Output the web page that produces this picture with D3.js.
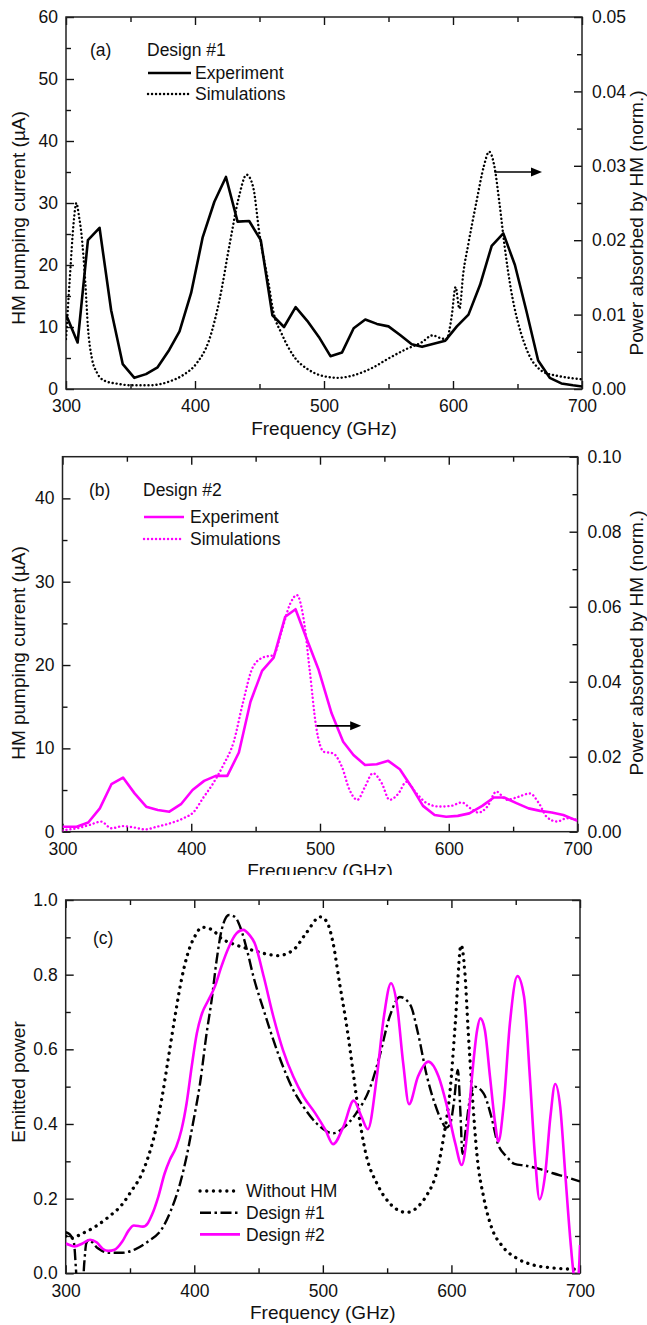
<!DOCTYPE html>
<html lang="en">
<head>
<meta charset="UTF-8">
<title>HM pumping current and emitted power</title>
<script src="https://cdnjs.cloudflare.com/ajax/libs/d3/7.8.5/d3.min.js"></script>
<style>
  body { margin: 0; background: #fff; }
  svg { display: block; font-family: "Liberation Sans", Arial, sans-serif; }
</style>
</head>
<body>
<div id="chart"></div>
<script>
// ---- data ----
var freqMajor = [300, 400, 500, 600, 700];
var freqMinor = [350, 450, 550, 650];

// (a) Design #1: pumping current (µA) and simulated absorbed power (norm.)
var aExperiment = [[300,12],[309,7.5],[317,24],[326,26],[335,12.7],[344,4],[353,1.8],[362,2.4],[371,3.5],[380,6.3],
  [388,9.3],[397,15.5],[406,24.5],[415,30.2],[424,34.2],[433,27],[442,27.1],[451,24],[460,11.9],[469,10],
  [478,13.2],[487,11],[496,8.4],[505,5.3],[514,5.9],[523,9.8],[532,11.2],[541,10.5],[550,10.1],[559,8.7],
  [568,7.2],[576,6.8],[585,7.3],[594,7.8],[603,10.1],[612,12],[621,16.8],[630,23.1],[639,25.1],[648,20],
  [657,12.5],[666,4.6],[675,1.8],[684,0.9],[693,0.6],[700,0.4]];
var aSimulation = [[300,0.0067],[303,0.0150],[306,0.0225],[308,0.0250],[310,0.0233],[312,0.0208],[315,0.0142],
  [317,0.0083],[320,0.0042],[324,0.0022],[330,0.0011],[340,0.0007],[350,0.0005],[365,0.0005],[380,0.0010],
  [391,0.0019],[401,0.0034],[411,0.0066],[419,0.0120],[427,0.0196],[434,0.0258],[440,0.0288],[445,0.0272],
  [450,0.0208],[457,0.0142],[461,0.0102],[467,0.0075],[477,0.0043],[488,0.0026],[498,0.0018],[511,0.0015],
  [524,0.0019],[537,0.0028],[550,0.0041],[563,0.0053],[576,0.0063],[584,0.0072],[591,0.0068],[595,0.0067],
  [599,0.0098],[602,0.0137],[605,0.0108],[608,0.0156],[612,0.0196],[618,0.0250],[624,0.0300],[628,0.0319],
  [632,0.0300],[636,0.0250],[640,0.0192],[645,0.0133],[650,0.0092],[655,0.0063],[660,0.0042],[665,0.0030],
  [670,0.0023],[680,0.0018],[690,0.0015],[700,0.0013]];
var aLeftMajor = [0, 10, 20, 30, 40, 50, 60];
var aLeftMinor = [5, 15, 25, 35, 45, 55];
var aRightMajor = [0, 0.01, 0.02, 0.03, 0.04, 0.05];
var aRightMinor = [0.005, 0.015, 0.025, 0.035, 0.045];

// (b) Design #2
var bExperiment = [[300,0.6],[311,0.6],[320,1.1],[329,2.8],[338,5.7],[347,6.5],[356,4.6],[365,3.0],[374,2.6],
  [383,2.4],[392,3.3],[401,5.0],[410,6.1],[419,6.7],[428,6.7],[437,9.5],[446,15.6],[455,19.3],[464,20.9],
  [473,25.8],[481,26.7],[490,23],[499,19.4],[509,14.2],[518,10.8],[526,9.2],[535,8.0],[544,8.1],[553,8.5],
  [562,7.5],[571,5.4],[580,3.1],[589,2.0],[598,1.8],[607,1.9],[616,2.2],[626,3.1],[635,4.1],[643,4.1],
  [653,3.4],[662,2.8],[671,2.5],[680,2.3],[689,2.0],[700,1.3]];
var bSimulation = [[300,0.0003],[303,0.0005],[311,0.0009],[321,0.0018],[330,0.0027],[338,0.0009],[347,0.0015],
  [356,0.0011],[364,0.0006],[373,0.0013],[383,0.0022],[394,0.0036],[402,0.0053],[409,0.0089],[417,0.0129],
  [425,0.0178],[433,0.0240],[440,0.0342],[448,0.0440],[456,0.0465],[464,0.0471],[470,0.0533],[477,0.0609],
  [482,0.0631],[487,0.0573],[492,0.0431],[497,0.0280],[503,0.0213],[510,0.0209],[517,0.0173],[523,0.0111],
  [529,0.0085],[535,0.0120],[541,0.0156],[548,0.0129],[554,0.0085],[561,0.0102],[567,0.0133],[575,0.0102],
  [583,0.0076],[593,0.0067],[602,0.0069],[610,0.0078],[617,0.0062],[623,0.0051],[630,0.0067],[637,0.0107],
  [645,0.0085],[654,0.0093],[663,0.0102],[670,0.0076],[676,0.0040],[684,0.0027],[692,0.0036],[700,0.0031]];
var bLeftMajor = [0, 10, 20, 30, 40];
var bLeftMinor = [5, 15, 25, 35];
var bRightMajor = [0, 0.02, 0.04, 0.06, 0.08, 0.10];
var bRightMinor = [0.01, 0.03, 0.05, 0.07, 0.09];

// (c) emitted power
var withoutHM = [[300,0.1],[305,0.095],[312,0.105],[323,0.125],[333,0.15],[344,0.185],[351,0.22],[359,0.265],
  [364,0.31],[370,0.384],[375,0.473],[380,0.58],[385,0.688],[390,0.786],[395,0.857],[401,0.906],[406,0.927],
  [414,0.92],[421,0.897],[429,0.884],[441,0.87],[454,0.857],[465,0.851],[477,0.866],[487,0.911],[498,0.955],
  [503,0.942],[508,0.884],[513,0.777],[519,0.652],[524,0.527],[529,0.402],[534,0.3125],[542,0.241],[552,0.1875],
  [565,0.163],[571,0.17],[577,0.19],[581,0.21],[589,0.277],[594,0.366],[599,0.491],[603,0.67],[607.5,0.879],
  [610.5,0.804],[613,0.652],[616,0.491],[620,0.3125],[625,0.205],[631,0.125],[640,0.071],[651,0.04],
  [664,0.022],[677,0.015],[690,0.0116],[700,0.011]];
var design1 = [[300,0.11],[303,0.105],[305,0.095],[306.5,0.08],[308,0.01],[309,-0.04],[313,-0.04],[314.5,0.03],
  [316,0.08],[318,0.089],[325,0.067],[333,0.055],[344,0.055],[354,0.064],[364,0.085],[375,0.12],[382,0.17],
  [389,0.241],[394,0.3125],[399,0.402],[404.5,0.509],[409.6,0.643],[413.5,0.732],[417.4,0.839],[421.3,0.92],
  [427,0.96],[431.5,0.955],[436,0.925],[441,0.866],[446,0.795],[454,0.705],[461.5,0.625],[469,0.554],
  [477,0.491],[485,0.446],[495,0.402],[508,0.375],[517,0.393],[526,0.429],[537,0.5],[544,0.58],[552,0.688],
  [560,0.74],[568,0.719],[574,0.643],[581,0.527],[587,0.455],[592,0.411],[596,0.39],[599,0.4],[602,0.46],
  [605,0.545],[607,0.43],[608.6,0.32],[611,0.38],[614,0.46],[618,0.5],[625,0.482],[631,0.42],[636,0.348],
  [643,0.3125],[649,0.293],[658,0.288],[669,0.279],[679,0.268],[690,0.257],[700,0.246]];
var design2 = [[300,0.08],[303,0.076],[307,0.072],[313,0.08],[319,0.09],[324,0.083],[329,0.065],[333,0.06],
  [338,0.063],[344,0.085],[349,0.115],[353,0.128],[360,0.125],[364,0.135],[367,0.156],[372,0.205],[377,0.268],
  [381,0.304],[386,0.339],[390,0.384],[394,0.455],[398,0.554],[402,0.643],[406,0.696],[411,0.732],[416,0.768],
  [421,0.821],[426.5,0.871],[433,0.911],[438,0.92],[443,0.906],[447,0.884],[454,0.795],[461.5,0.688],
  [469,0.598],[477,0.527],[485,0.473],[494,0.429],[502,0.384],[508,0.346],[516,0.393],[524,0.4625],[530,0.42],
  [535,0.386],[542,0.527],[547.5,0.688],[553,0.777],[557.5,0.723],[562.5,0.5625],[567,0.453],[574,0.527],
  [582,0.567],[590,0.527],[596,0.455],[603,0.348],[608,0.29],[612,0.366],[616,0.527],[620,0.652],
  [622.5,0.683],[626,0.652],[630,0.527],[634,0.402],[636.5,0.353],[640.5,0.446],[645.5,0.67],[651.3,0.796],
  [656.5,0.741],[661,0.527],[665,0.3125],[668.5,0.198],[673,0.268],[677,0.42],[680.7,0.507],[684.6,0.446],
  [688.5,0.268],[692.5,0.089],[695,0.0],[697,-0.03],[699,0.0],[700,0.076]];
var cLeftMajor = [0, 0.2, 0.4, 0.6, 0.8, 1.0];
var cLeftMinor = [0.1, 0.3, 0.5, 0.7, 0.9];

// ---- styles ----
var MAGENTA = "#ff00ff";
var styles = {
  solid:   { width: 2.6, dash: null, cap: "butt" },
  dots:    { width: 2.4, dash: "0.1,3.9", cap: "round" },
  bigDots: { width: 3.3, dash: "0.1,6.6", cap: "round" },
  dashDot: { width: 2.4, dash: "11,3.5,2.5,3.5", cap: "butt" }
};

var svg = d3.select("#chart").append("svg")
    .attr("width", 647)
    .attr("height", 1325);

var clipCount = 0;
function addClip(x, y, w, h) {
  var id = "clip" + (clipCount++);
  svg.append("clipPath").attr("id", id)
    .append("rect").attr("x", x).attr("y", y).attr("width", w).attr("height", h);
  return "url(#" + id + ")";
}

function styled(sel, color, st) {
  sel.attr("fill", "none")
    .attr("stroke", color)
    .attr("stroke-width", st.width)
    .attr("stroke-linecap", st.cap)
    .attr("stroke-linejoin", "round");
  if (st.dash) sel.attr("stroke-dasharray", st.dash);
  return sel;
}

function axis(g, fn, scale, values, size, pad, fmt, transform) {
  var a = g.append("g")
    .attr("transform", transform)
    .call(fn(scale).tickValues(values).tickSize(size).tickSizeOuter(0).tickPadding(pad).tickFormat(fmt));
  // d3 sets its own font on the axis group, override after the call
  a.attr("font-size", 17.5)
    .attr("font-family", "'Liberation Sans', Arial, sans-serif")
    .style("color", "#111");
  a.select(".domain").remove();
  a.selectAll(".tick line").attr("stroke-width", 1.4);
  return a;
}

function drawPanel(p) {
  var g = svg.append("g");
  if (p.cutAt) g.attr("clip-path", addClip(0, 0, 647, p.cutAt));

  var x = d3.scaleLinear().domain([300, 700]).range([p.x0, p.x1]);
  var y = d3.scaleLinear().domain(p.yDomain).range([p.y1, p.y0]);
  var y2 = p.y2Domain ? d3.scaleLinear().domain(p.y2Domain).range([p.y1, p.y0]) : y;
  var none = function() { return ""; };

  // ticks, all pointing inward
  axis(g, d3.axisBottom, x, freqMajor, -8, 11, d3.format("d"), "translate(0," + p.y1 + ")");
  axis(g, d3.axisBottom, x, freqMinor, -5, 11, none, "translate(0," + p.y1 + ")");
  axis(g, d3.axisTop, x, freqMajor, -8, 0, none, "translate(0," + p.y0 + ")");
  axis(g, d3.axisTop, x, freqMinor, -5, 0, none, "translate(0," + p.y0 + ")");
  axis(g, d3.axisLeft, y, p.leftMajor, -8, 8, p.leftFormat, "translate(" + p.x0 + ",0)");
  axis(g, d3.axisLeft, y, p.leftMinor, -5, 8, none, "translate(" + p.x0 + ",0)");
  axis(g, d3.axisRight, y2, p.rightMajor, -8, 10, p.rightFormat || none, "translate(" + p.x1 + ",0)");
  axis(g, d3.axisRight, y2, p.rightMinor, -5, 10, none, "translate(" + p.x1 + ",0)");

  g.append("rect")
    .attr("x", p.x0).attr("y", p.y0)
    .attr("width", p.x1 - p.x0).attr("height", p.y1 - p.y0)
    .attr("fill", "none").attr("stroke", "#222").attr("stroke-width", 1.5);

  // data
  var plot = g.append("g").attr("clip-path", addClip(p.x0, p.y0, p.x1 - p.x0, p.y1 - p.y0));
  p.series.forEach(function(s) {
    var sc = s.right ? y2 : y;
    var line = d3.line()
      .x(function(d) { return x(d[0]); })
      .y(function(d) { return sc(d[1]); })
      .curve(s.smooth ? d3.curveMonotoneX : d3.curveLinear);
    styled(plot.append("path").datum(s.data).attr("d", line), s.color, s.style);
  });

  // arrow toward the right axis
  if (p.arrow) {
    var ay = y(p.arrow.at), ax0 = x(p.arrow.from), ax1 = x(p.arrow.to);
    g.append("line").attr("x1", ax0).attr("x2", ax1 - 8).attr("y1", ay).attr("y2", ay)
      .attr("stroke", "#000").attr("stroke-width", 1.6);
    g.append("path")
      .attr("d", "M" + ax1 + "," + ay + "L" + (ax1 - 11) + "," + (ay - 4.5) + "L" + (ax1 - 11) + "," + (ay + 4.5) + "Z")
      .attr("fill", "#000");
  }

  var txt = function(tx, ty, s, anchor, size) {
    return g.append("text").attr("x", tx).attr("y", ty).attr("dy", "0.35em")
      .attr("font-size", size || 17.5).attr("fill", "#111")
      .attr("text-anchor", anchor || "start").text(s);
  };

  // panel tag and design name
  txt(p.tag[0], p.tag[1], p.tag[2]);
  if (p.title) txt(p.title[0], p.title[1], p.title[2]);

  // legend
  p.legend.forEach(function(l, i) {
    var ly = p.legendY + i * p.legendStep;
    styled(g.append("line").attr("x1", p.legendX[0]).attr("x2", p.legendX[1]).attr("y1", ly).attr("y2", ly),
      l.color, l.style);
    txt(p.legendX[1] + p.legendGap, ly, l.label);
  });

  // axis titles
  txt((p.x0 + p.x1) / 2, p.y1 + 39, "Frequency (GHz)", "middle", 19);
  g.append("text")
    .attr("transform", "translate(18," + p.leftTitleY + ") rotate(-90)")
    .attr("dy", "0.35em").attr("text-anchor", "middle")
    .attr("font-size", 19).attr("fill", "#111").text(p.leftTitle);
  if (p.rightTitle) {
    g.append("text")
      .attr("transform", "translate(636," + p.rightTitleY + ") rotate(-90)")
      .attr("dy", "0.35em").attr("text-anchor", "middle")
      .attr("font-size", 19).attr("fill", "#111").text(p.rightTitle);
  }
}

drawPanel({
  x0: 66, x1: 582, y0: 17, y1: 389,
  yDomain: [0, 60], y2Domain: [0, 0.05],
  leftMajor: aLeftMajor, leftMinor: aLeftMinor, leftFormat: d3.format("d"),
  rightMajor: aRightMajor, rightMinor: aRightMinor, rightFormat: d3.format(".2f"),
  series: [
    { data: aSimulation, right: true, smooth: true, color: "#000", style: styles.dots },
    { data: aExperiment, color: "#000", style: styles.solid }
  ],
  arrow: { from: 632, to: 669, at: 35 },
  tag: [90, 50, "(a)"], title: [147, 50, "Design #1"],
  legend: [
    { label: "Experiment", color: "#000", style: styles.solid },
    { label: "Simulations", color: "#000", style: styles.dots }
  ],
  legendX: [148, 191], legendGap: 4, legendY: 73, legendStep: 21,
  leftTitle: "HM pumping current (\u00b5A)", leftTitleY: 218,
  rightTitle: "Power absorbed by HM (norm.)", rightTitleY: 223
});

drawPanel({
  x0: 62.5, x1: 577.5, y0: 456.7, y1: 831.7, cutAt: 875,
  yDomain: [0, 45], y2Domain: [0, 0.10],
  leftMajor: bLeftMajor, leftMinor: bLeftMinor, leftFormat: d3.format("d"),
  rightMajor: bRightMajor, rightMinor: bRightMinor, rightFormat: d3.format(".2f"),
  series: [
    { data: bSimulation, right: true, smooth: true, color: MAGENTA, style: styles.dots },
    { data: bExperiment, color: MAGENTA, style: styles.solid }
  ],
  arrow: { from: 497.5, to: 532, at: 12.7 },
  tag: [89, 490, "(b)"], title: [143, 490, "Design #2"],
  legend: [
    { label: "Experiment", color: MAGENTA, style: styles.solid },
    { label: "Simulations", color: MAGENTA, style: styles.dots }
  ],
  legendX: [144, 184], legendGap: 6, legendY: 517, legendStep: 22,
  leftTitle: "HM pumping current (\u00b5A)", leftTitleY: 653,
  rightTitle: "Power absorbed by HM (norm.)", rightTitleY: 643
});

drawPanel({
  x0: 65.7, x1: 580, y0: 900, y1: 1273.3,
  yDomain: [0, 1],
  leftMajor: cLeftMajor, leftMinor: cLeftMinor, leftFormat: d3.format(".1f"),
  rightMajor: cLeftMajor, rightMinor: cLeftMinor,
  series: [
    { data: withoutHM, smooth: true, color: "#000", style: styles.bigDots },
    { data: design1, smooth: true, color: "#000", style: styles.dashDot },
    { data: design2, smooth: true, color: MAGENTA, style: styles.solid }
  ],
  tag: [93, 938, "(c)"],
  legend: [
    { label: "Without HM", color: "#000", style: styles.bigDots },
    { label: "Design #1", color: "#000", style: styles.dashDot },
    { label: "Design #2", color: MAGENTA, style: styles.solid }
  ],
  legendX: [200, 240], legendGap: 6, legendY: 1191, legendStep: 21.7,
  leftTitle: "Emitted power", leftTitleY: 1082
});
</script>
</body>
</html>
